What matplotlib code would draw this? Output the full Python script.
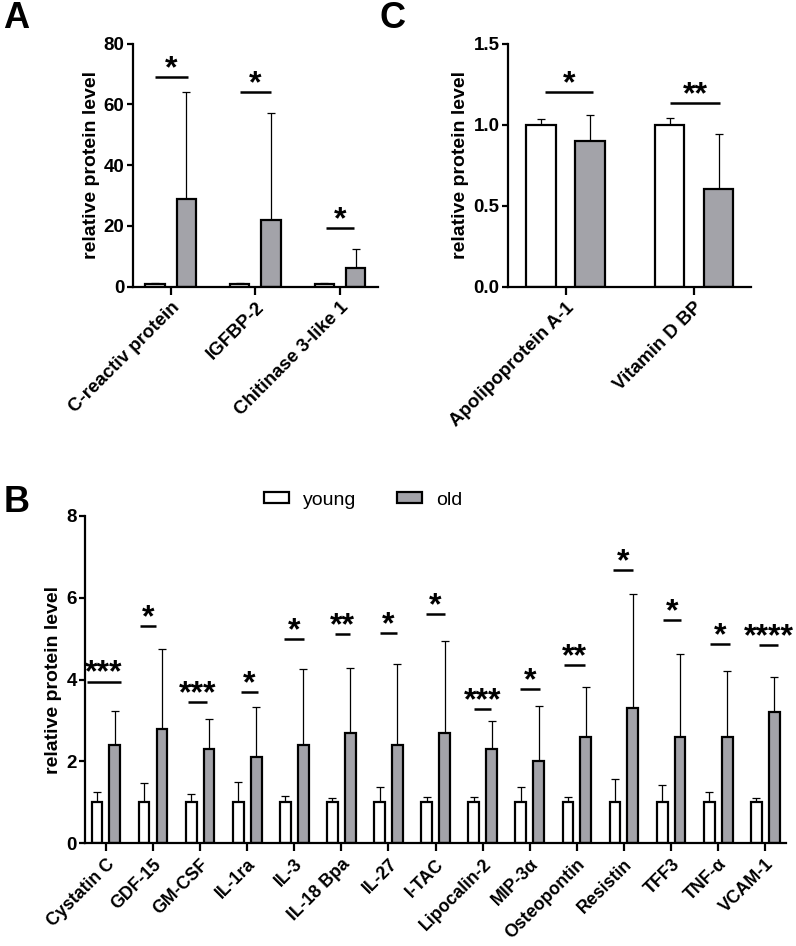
import numpy as np
import matplotlib
matplotlib.use('Agg')
from matplotlib import pyplot as plt
from matplotlib.patches import Patch

plt.rcParams['font.family'] = ['Liberation Sans', 'DejaVu Sans']

GREY = '#a3a3a9'

# panel A
a_names = ['C-reactiv protein', 'IGFBP-2', 'Chitinase 3-like 1']
a_young = [1.0, 1.0, 1.0]
a_young_sd = [0.2, 0.2, 0.2]
a_old = [29.0, 22.0, 6.0]
a_old_sd = [35.0, 35.0, 6.3]
a_sig = [69.0, 64.0, 19.2]
a_stars = ['*', '*', '*']

# panel C
c_names = ['Apolipoprotein A-1', 'Vitamin D BP']
c_young = [1.0, 1.0]
c_young_sd = [0.035, 0.04]
c_old = [0.9, 0.6]
c_old_sd = [0.16, 0.34]
c_sig = [1.2, 1.13]
c_stars = ['*', '**']

# panel B
b_names = ['Cystatin C', 'GDF-15', 'GM-CSF', 'IL-1ra', 'IL-3', 'IL-18 Bpa', 'IL-27',
           'I-TAC', 'Lipocalin-2', 'MIP-3α', 'Osteopontin', 'Resistin', 'TFF3',
           'TNF-α', 'VCAM-1']
b_young = [1.0, 1.0, 1.0, 1.0, 1.0, 1.0, 1.0, 1.0, 1.0, 1.0, 1.0, 1.0, 1.0, 1.0, 1.0]
b_young_sd = [0.26, 0.48, 0.21, 0.50, 0.16, 0.11, 0.38, 0.14, 0.14, 0.38, 0.13,
              0.56, 0.43, 0.26, 0.11]
b_old = [2.4, 2.8, 2.3, 2.1, 2.4, 2.7, 2.4, 2.7, 2.3, 2.0, 2.6, 3.3, 2.6, 2.6, 3.2]
b_old_sd = [0.83, 1.95, 0.73, 1.24, 1.86, 1.58, 1.98, 2.25, 0.70, 1.36, 1.22,
            2.79, 2.03, 1.61, 0.86]
b_sig = [3.95, 5.31, 3.45, 3.69, 4.99, 5.11, 5.13, 5.6, 3.28, 3.77, 4.36, 6.68,
         5.45, 4.87, 4.84]
b_stars = ['***', '*', '***', '*', '*', '**', '*', '*', '***', '*', '**', '*', '*',
           '*', '****']

# where the significance lines start/end around each group centre
a_spans = [(-0.185, 0.2), (-0.185, 0.19), (-0.16, 0.17)]
c_spans = [(-0.16, 0.21), (-0.19, 0.205)]
b_spans = [(-0.40, 0.32), (-0.27, 0.06), (-0.26, 0.15), (-0.13, 0.23), (-0.21, 0.20),
           (-0.14, 0.19), (-0.18, 0.18), (-0.20, 0.20), (-0.19, 0.18), (-0.20, 0.22),
           (-0.27, 0.18), (-0.24, 0.20), (-0.17, 0.21), (-0.17, 0.25), (-0.13, 0.28)]


def grouped_bars(ax, names, young, young_sd, old, old_sd, sig, stars, spans,
                 ylim, yticks, yfmt, xlim, off=0.185, width=0.23, xfs=13.5):
    x = np.arange(len(names))
    for pos, mean, sd, fc in [(x - off, young, young_sd, 'white'),
                              (x + off, old, old_sd, GREY)]:
        ax.errorbar(pos, mean, yerr=[np.zeros(len(sd)), sd], fmt='none',
                    ecolor='black', elinewidth=0.9, capsize=2.6, capthick=0.9,
                    zorder=1)
        ax.bar(pos, mean, width, color=fc, edgecolor='black', linewidth=1.6,
               zorder=2)
    for i, (h, s, (l, r)) in enumerate(zip(sig, stars, spans)):
        ax.plot([i + l, i + r], [h, h], color='black', lw=1.8,
                solid_capstyle='butt', clip_on=False)
        ax.text(i + (l + r) / 2, h, s, ha='center', va='baseline',
                fontsize=23, fontweight='bold', clip_on=False)

    ax.set_xlim(*xlim)
    ax.set_ylim(*ylim)
    ax.set_yticks(yticks)
    ax.set_yticklabels([yfmt.format(t) for t in yticks], fontsize=13.5,
                       fontweight='bold')
    ax.set_xticks(x)
    ax.set_xticklabels(names, rotation=45, ha='right', rotation_mode='anchor',
                       fontsize=xfs, fontweight='bold')
    ax.set_ylabel('relative protein level', fontsize=14, fontweight='bold',
                  labelpad=3)
    for side in ['top', 'right']:
        ax.spines[side].set_visible(False)
    for side in ['left', 'bottom']:
        ax.spines[side].set_linewidth(1.6)
    ax.tick_params(axis='y', length=4, width=1.6, pad=2)
    ax.tick_params(axis='x', length=6, width=1.6, pad=3)


fig = plt.figure(figsize=(7.96, 9.46), dpi=100)

ax_a = fig.add_axes([0.167, 0.697, 0.308, 0.257])
grouped_bars(ax_a, a_names, a_young, a_young_sd, a_old, a_old_sd, a_sig, a_stars,
             a_spans, (0, 80), [0, 20, 40, 60, 80], '{:.0f}', (-0.445, 2.45))

ax_c = fig.add_axes([0.638, 0.697, 0.306, 0.257])
grouped_bars(ax_c, c_names, c_young, c_young_sd, c_old, c_old_sd, c_sig, c_stars,
             c_spans, (0, 1.5), [0.0, 0.5, 1.0, 1.5], '{:.1f}', (-0.449, 1.446),
             off=0.19)

ax_b = fig.add_axes([0.107, 0.1086, 0.881, 0.346])
grouped_bars(ax_b, b_names, b_young, b_young_sd, b_old, b_old_sd, b_sig, b_stars,
             b_spans, (0, 8), [0, 2, 4, 6, 8], '{:.0f}', (-0.44, 14.45), off=0.19,
             xfs=12.8)

handles = [Patch(facecolor='white', edgecolor='black', linewidth=1.6, label='young'),
           Patch(facecolor=GREY, edgecolor='black', linewidth=1.6, label='old')]
fig.legend(handles=handles, loc='center', bbox_to_anchor=(363 / 796, 1 - 500 / 946),
           ncol=2, frameon=False, fontsize=14, handlelength=1.3, handleheight=0.5,
           handletextpad=0.7, columnspacing=2.1)

for letter, xp, yp in [('A', 0.004, 0.970), ('C', 0.477, 0.970), ('B', 0.004, 0.459)]:
    fig.text(xp, yp, letter, fontsize=26, fontweight='bold', va='baseline')

fig.savefig('out.png', dpi=100)
